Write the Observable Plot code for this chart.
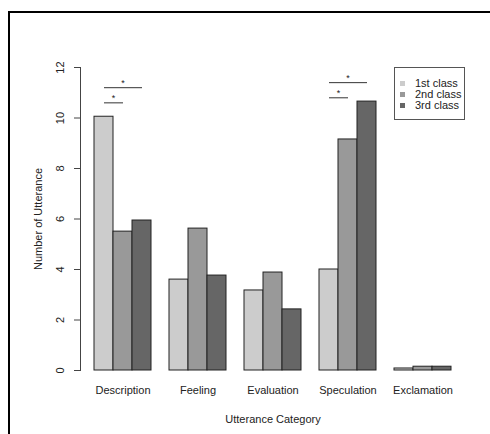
<!DOCTYPE html>
<html>
<head>
<meta charset="utf-8">
<script src="https://cdn.jsdelivr.net/npm/d3@7"></script>
<script src="https://cdn.jsdelivr.net/npm/@observablehq/plot@0.6"></script>
<style>
  html, body { margin: 0; padding: 0; background: #fff; }
  #wrap { position: relative; width: 490px; height: 434px; overflow: hidden; font-family: "Liberation Sans", Arial, sans-serif; }
  #border { position: absolute; left: 8px; top: 11px; width: 500px; height: 500px; border-top: 2px solid #000; border-left: 2px solid #000; box-sizing: border-box; pointer-events: none; }
  #legend { position: absolute; left: 394px; top: 67px; width: 71px; height: 53px; box-sizing: border-box; border: 1px solid #555; background: #fff; font-size: 11px; color: #222; }
  #legend .row { position: absolute; left: 0; height: 11px; line-height: 11px; white-space: nowrap; }
  #legend .sw { position: absolute; left: 5px; top: 3px; width: 5px; height: 5px; }
  #legend .lab { position: absolute; left: 20px; top: 0; }
</style>
</head>
<body>
<div id="wrap"><div id="border"></div></div>
<script>
// ---- data ----
const categories = ["Description", "Feeling", "Evaluation", "Speculation", "Exclamation"];
const classes = ["1st class", "2nd class", "3rd class"];
const firstClass  = [10.05, 3.60, 3.17, 4.00, 0.08];
const secondClass = [5.50, 5.62, 3.88, 9.15, 0.15];
const thirdClass  = [5.94, 3.76, 2.42, 10.65, 0.15];
const greys = ["#cccccc", "#999999", "#666666"];
const yTicks = [0, 2, 4, 6, 8, 10, 12];
// significance brackets
const sigCategory = ["Description", "Description", "Speculation", "Speculation"];
const sigFrom = ["1st class", "1st class", "1st class", "1st class"];
const sigTo = ["2nd class", "3rd class", "2nd class", "3rd class"];
const sigY = [10.6, 11.2, 10.8, 11.4];
const sigLabel = ["*", "*", "*", "*"];

// ---- tables built from the arrays ----
const series = [firstClass, secondClass, thirdClass];
const data = categories.flatMap((c, i) => classes.map((k, j) => ({category: c, cls: k, value: series[j][i]})));
const sig = sigCategory.map((c, i) => ({category: c, from: sigFrom[i], to: sigTo[i], y: sigY[i], label: sigLabel[i]}));
const sigNear = sig.filter(d => d.to === "2nd class");
const sigFar = sig.filter(d => d.to === "3rd class");

const chart = Plot.plot({
  width: 490,
  height: 434,
  marginLeft: 94,
  marginRight: 39,
  marginTop: 67,
  marginBottom: 64,
  style: {fontFamily: "'Liberation Sans', Arial, sans-serif", fontSize: "11px", color: "#222", background: "transparent"},
  fx: {domain: categories, paddingInner: 0.24, paddingOuter: 0, label: null},
  x: {domain: classes, padding: 0, axis: null},
  y: {domain: [0, 12], axis: null},
  color: {domain: classes, range: greys},
  marks: [
    Plot.barY(data, {fx: "category", x: "cls", y: "value", fill: "cls", stroke: "#222", strokeWidth: 1}),
    Plot.link(sig, {fx: "category", x1: "from", x2: "to", y1: "y", y2: "y", stroke: "#333", strokeWidth: 1}),
    Plot.text(sigNear, {fx: "category", x: "to", y: "y", text: "label", dx: -9.5, dy: -5, fontSize: 9, fill: "#222"}),
    Plot.text(sigFar, {fx: "category", x: () => classes[1], y: "y", text: "label", dy: -5, fontSize: 9, fill: "#222"}),
    Plot.axisFx({anchor: "bottom", tickSize: 0, tickPadding: 16, fontSize: 11, label: "Utterance Category", labelAnchor: "center", labelOffset: 52, labelArrow: "none"}),
    Plot.axisY({ticks: yTicks, tickSize: 6, dx: -14, tickRotate: -90, tickPadding: 11, fontSize: 11, label: "Number of Utterance", labelAnchor: "center", labelOffset: 60, labelArrow: "none", stroke: "#444"}),
    Plot.frame({anchor: "left", dx: -14, facetAnchor: "left", stroke: "#444"})
  ]
});
document.getElementById("wrap").appendChild(chart);

// legend (HTML overlay, built from classes and greys)
const legend = d3.select("#wrap").append("div").attr("id", "legend");
const rows = legend.selectAll(".row").data(classes).join("div")
  .attr("class", "row")
  .style("top", (d, i) => (10 + i * 11) + "px");
rows.append("div").attr("class", "sw").style("background", (d, i) => greys[i]);
rows.append("div").attr("class", "lab").text(d => d);
</script>
</body>
</html>
